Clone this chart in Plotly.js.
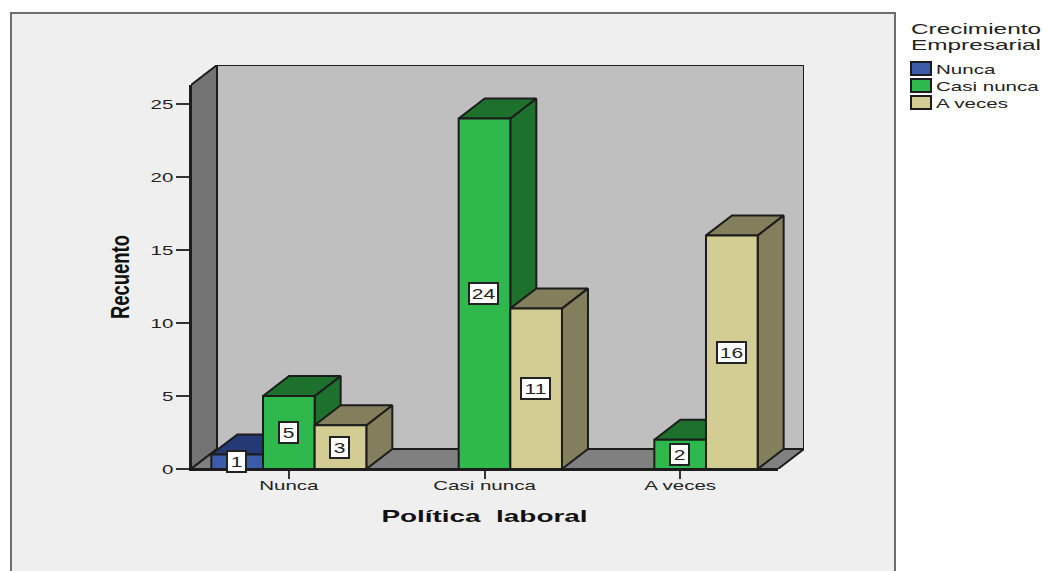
<!DOCTYPE html>
<html>
<head>
<meta charset="utf-8">
<script src="https://cdn.plot.ly/plotly-3.0.1.min.js"></script>
<style>html,body{margin:0;padding:0;background:#fff}#chart{width:1043px;height:571px}</style>
</head>
<body>
<div id="chart"></div>
<script>
const categories = ["Nunca", "Casi nunca", "A veces"];
const seriesNames = ["Nunca", "Casi nunca", "A veces"];
const nunca = [1, null, null];
const casiNunca = [5, 24, 2];
const aVeces = [3, 11, 16];
const yTicks = [0, 5, 10, 15, 20, 25];
const frontColors = ["#3c5bab", "#2fb84b", "#d3cd94"];
const darkColors = ["#253a75", "#1e702d", "#837f5c"];

const allSeries = [nunca, casiNunca, aVeces];
const W = 1043, H = 571, L = 191, R = 778, B = 469, T = 85, depthPxX = 26, depthPxY = 20;
const xRange = [-0.5, 2.5], yRange = [0, 26.3];
const depthX = depthPxX * (xRange[1] - xRange[0]) / (R - L);
const depthY = depthPxY * yRange[1] / (B - T);
const xRangeFull = [xRange[0], xRange[1] + depthX], yRangeFull = [yRange[0], yRange[1] + depthY];
const RF = R + depthPxX, TF = T - depthPxY;
const barW = 0.264;
const edge = "#1c1c1c";
const pxX = p => (p - L) / (RF - L);
const pxY = p => (B - p) / (B - TF);

function poly(xs, ys, fill) {
  return {type: "scatter", mode: "lines", x: xs.concat(xs[0]), y: ys.concat(ys[0]), fill: "toself",
    fillcolor: fill, line: {color: edge, width: 2}, hoverinfo: "skip", showlegend: false, xaxis: "x", yaxis: "y"};
}
const traces = [];
const [x0, x1] = xRange, [y0, y1] = yRange;
traces.push(poly([x0 + depthX, x1 + depthX, x1 + depthX, x0 + depthX], [depthY, depthY, y1 + depthY, y1 + depthY], "#bfbfbf"));
traces.push(poly([x0, x0 + depthX, x0 + depthX, x0], [y0, depthY, y1 + depthY, y1], "#737373"));
traces.push(poly([x0, x1, x1 + depthX, x0 + depthX], [y0, y0, depthY, depthY], "#808080"));

categories.forEach((c, ci) => {
  allSeries.forEach((vals, si) => {
    const v = vals[ci];
    if (v === null) return;
    const a = ci + (si - 1) * barW - barW / 2, b = a + barW;
    traces.push(poly([b, b + depthX, b + depthX, b], [0, depthY, v + depthY, v], darkColors[si]));
    traces.push(poly([a, b, b + depthX, a + depthX], [v, v, v + depthY, v + depthY], darkColors[si]));
  });
});
allSeries.forEach((vals, si) => {
  traces.push({type: "bar", name: seriesNames[si], x: categories.map((c, i) => i), y: vals,
    marker: {color: frontColors[si], line: {color: edge, width: 2}}, xaxis: "x2", yaxis: "y2", hoverinfo: "x+y"});
});

const annotations = [];
allSeries.forEach((vals, si) => vals.forEach((v, ci) => {
  if (v === null) return;
  annotations.push({x: ci + (si - 1) * barW - 0.004, y: v / 2, xref: "x2", yref: "y2", text: String(v), showarrow: false,
    bgcolor: "#ffffff", bordercolor: "#222", borderwidth: 2, borderpad: 0,
    width: String(v).length > 1 ? 27 : 17, height: 19, font: {family: "Liberation Sans", size: 14.5, color: "#222"}});
}));
["Crecimiento", "Empresarial"].forEach((t, i) => annotations.push({
  xref: "paper", yref: "paper", x: pxX(976), y: pxY(29 + i * 16), xanchor: "center", yanchor: "middle", showarrow: false,
  text: t, font: {family: "Liberation Sans", size: 15, color: "#222"}, borderpad: 0, borderwidth: 0}));

const axisFont = {family: "Liberation Sans", size: 13.5, color: "#222"};
const hiddenAxis = {visible: false, showgrid: false, zeroline: false, fixedrange: true};
const layout = {
  width: W, height: H, margin: {l: L, r: W - RF, t: TF, b: H - B}, paper_bgcolor: "#fff", plot_bgcolor: "rgba(0,0,0,0)",
  barmode: "group", bargap: 0.208, bargroupgap: 0, font: axisFont,
  xaxis: Object.assign({range: xRangeFull, domain: [0, 1], anchor: "y"}, hiddenAxis),
  yaxis: Object.assign({range: yRangeFull, domain: [0, 1], anchor: "x"}, hiddenAxis),
  xaxis2: {range: xRange, domain: [0, pxX(R)], anchor: "y2", tickvals: categories.map((c, i) => i), ticktext: categories, showgrid: false, zeroline: false,
    showline: true, linecolor: edge, linewidth: 2, ticks: "outside", ticklen: 8, tickwidth: 2, tickcolor: "#333", ticklabelstandoff: -5,
    tickfont: axisFont, title: {text: "Política  laboral", standoff: 18, font: {family: "Liberation Sans", size: 17, weight: 700, color: "#111"}}},
  yaxis2: {range: yRange, domain: [0, pxY(T)], anchor: "x2", tickvals: yTicks, showgrid: false, zeroline: false, showline: true, linecolor: edge, linewidth: 2,
    ticks: "outside", ticklen: 13, tickwidth: 2, tickcolor: "#333", tickfont: axisFont,
    title: {text: "Recuento", standoff: 21, font: {family: "Liberation Sans", size: 26, weight: 700, color: "#111"}}},
  showlegend: true,
  legend: {x: pxX(896), y: pxY(60), xanchor: "left", yanchor: "top", bgcolor: "rgba(0,0,0,0)", traceorder: "normal",
    font: axisFont, itemwidth: 30, itemclick: false, itemdoubleclick: false},
  shapes: [{type: "rect", xref: "paper", yref: "paper", layer: "below", x0: pxX(11), x1: pxX(895), y0: pxY(13), y1: pxY(590),
    fillcolor: "#efefef", line: {color: "#6e6e6e", width: 2}}],
  annotations: annotations
};

function stretch(el, f) {
  const len = el.getComputedTextLength();
  el.setAttribute("textLength", (len * f).toFixed(1));
  el.setAttribute("lengthAdjust", "spacingAndGlyphs");
}
Plotly.newPlot("chart", traces, layout, {displayModeBar: false, responsive: false}).then(gd => {
  gd.querySelectorAll(".xtick text, .x2tick text, .ytick text, .y2tick text, .legendtext").forEach(t => stretch(t, 1.52));
  gd.querySelectorAll(".annotation-text").forEach(t => {
    if (t.textContent.length > 4) { t.setAttribute("textLength", "130"); t.setAttribute("lengthAdjust", "spacingAndGlyphs"); }
    else stretch(t, 1.45);
  });
  const xt = gd.querySelector(".x2title"); if (xt) stretch(xt, 1.64);
  const yt = gd.querySelector(".y2title"); if (yt) stretch(yt, 0.71);
  const box = gd.querySelector(".legend .scrollbox"); if (box) box.removeAttribute("clip-path");
  gd.querySelectorAll(".legend .traces").forEach((r, i) => {
    r.setAttribute("transform", "translate(0," + (8.5 + i * 17) + ")");
    const p = r.querySelector(".legendpoints path");
    if (p) p.setAttribute("d", "M-5,6.5H15V-6.5H-5Z");
  });
});
</script>
</body>
</html>
